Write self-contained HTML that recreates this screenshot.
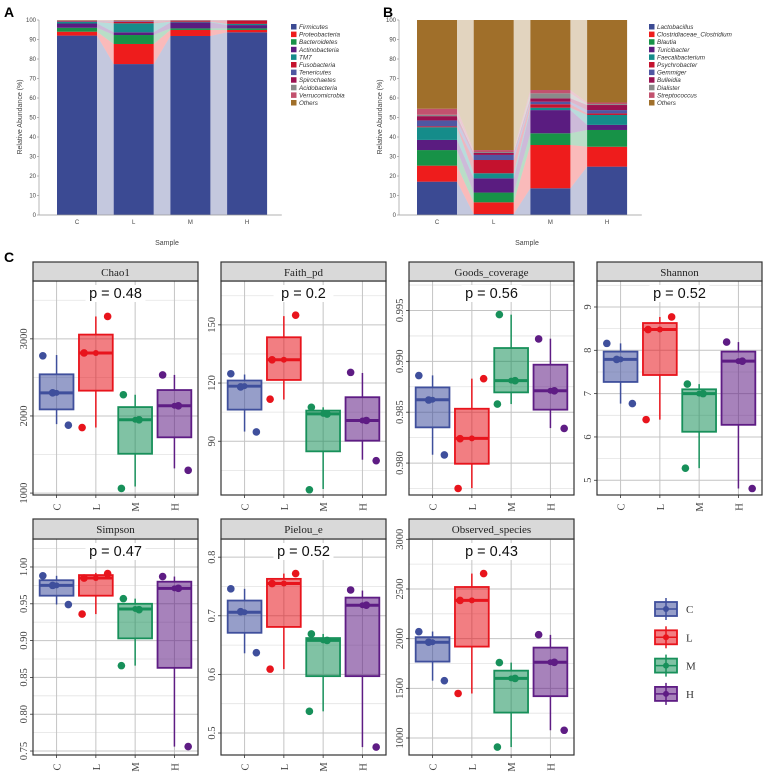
<!DOCTYPE html>
<html><head><meta charset="utf-8"><style>
html,body{margin:0;padding:0;background:#fff;}
svg{display:block;}
</style></head><body>
<svg id="fig" xmlns="http://www.w3.org/2000/svg" width="767" height="773" viewBox="0 0 767 773" font-family="Liberation Sans, sans-serif"></svg>
<script>
// ---------- Panel A data ----------
const phylaNames=["Firmicutes","Proteobacteria","Bacteroidetes","Actinobacteria","TM7","Fusobacteria","Tenericutes","Spirochaetes","Acidobacteria","Verrucomicrobia","Others"];
const phylaColors=["#3b4a93","#ee1c1c","#179247","#5a1c80","#158c8a","#c4122e","#4f57a2","#9b1150","#8a8a8a","#c2516e","#a06f2a"];
const samples=["C","L","M","H"];
const phylaC=[92,2,2,2.2,0.8,0.3,0.2,0.1,0.1,0.1,0.2];
const phylaL=[77.4,10.3,4.6,1.4,4.6,0.8,0.3,0.2,0.1,0.1,0.2];
const phylaM=[91.8,3.1,0.8,3.1,0.3,0.5,0.1,0.1,0.05,0.05,0.1];
const phylaH=[93.7,1.2,0.8,1.7,0.6,1.7,0.1,0.05,0.05,0.05,0.05];
// ---------- Panel B data ----------
const genusNames=["Lactobacillus","Clostridiaceae_Clostridium","Blautia","Turicibacter","Faecalibacterium","Psychrobacter","Gemmiger","Bulleidia","Dialister","Streptococcus","Others"];
const genusColors=["#3b4a93","#ee1c1c","#179247","#5a1c80","#158c8a","#c4122e","#4f57a2","#9b1150","#8a8a8a","#c2516e","#a06f2a"];
const genusC=[17.1,8.2,8,5.2,6.5,0.5,3,2.2,0.7,3.1,45.5];
const genusL=[0.5,6,5,7.3,2.6,6.8,2.6,1,0.5,1,66.7];
const genusM=[13.7,22.2,6,11.9,1.2,1.8,1.3,1.7,2.6,1.7,35.9];
const genusH=[24.8,10.2,8.6,2.6,5.1,0.8,1.7,2.6,0.5,0.8,42.3];
const abundTicks=[0,10,20,30,40,50,60,70,80,90,100];
// ---------- Panel C data: [lo,q1,median,q3,hi] per group C,L,M,H ----------
const groups=["C","L","M","H"];
const groupColors=["#3f4f9c","#e8141c","#17905a","#5e1c84"];
const chao1Box=[[1894,2085,2300,2540,2790],[1850,2328,2817,3055,3290],[1085,1510,1950,2115,2275],[1320,1723,2132,2336,2532]];
const chao1Pts=[[2780,2300,1880],[3290,2817,1850],[2275,1950,1060],[2532,2132,1295]];
const chao1Ticks=[1000,2000,3000];
const faithBox=[[95,106.3,118.4,121.3,124.4],[111.5,121.6,132,143.6,154.5],[65.4,84.8,104.1,105.8,107.5],[80.5,90.3,100.7,112.7,125.2]];
const faithPts=[[124.8,118,94.8],[155,132,111.7],[107.5,104,65],[125.5,100.7,80]];
const faithTicks=[90,120,150];
const goodsBox=[[0.98082,0.98351,0.98623,0.98744,0.98862],[0.97754,0.97993,0.98243,0.98534,0.9883],[0.9858,0.98695,0.9881,0.99131,0.99459],[0.98344,0.98525,0.98711,0.98967,0.99223]];
const goodsPts=[[0.9886,0.9862,0.9808],[0.9883,0.9824,0.9775],[0.9946,0.9881,0.9858],[0.9922,0.9871,0.9834]];
const goodsTicks=[0.980,0.985,0.990,0.995];
const shannonBox=[[6.77,7.27,7.79,7.97,8.16],[6.40,7.43,8.48,8.63,8.77],[5.28,6.12,7.0,7.10,7.22],[4.81,6.28,7.75,7.97,8.19]];
const shannonPts=[[8.16,7.79,6.77],[8.77,8.48,6.40],[7.22,7.0,5.28],[8.19,7.75,4.81]];
const shannonTicks=[5,6,7,8,9];
const simpsonBox=[[0.949,0.961,0.975,0.982,0.988],[0.936,0.961,0.985,0.989,0.992],[0.866,0.903,0.943,0.950,0.957],[0.756,0.863,0.971,0.980,0.987]];
const simpsonPts=[[0.988,0.975,0.949],[0.991,0.985,0.936],[0.957,0.942,0.866],[0.987,0.971,0.756]];
const simpsonTicks=[0.75,0.80,0.85,0.90,0.95,1.00];
const pielouBox=[[0.636,0.671,0.706,0.726,0.746],[0.609,0.681,0.755,0.763,0.772],[0.537,0.597,0.658,0.662,0.669],[0.476,0.597,0.718,0.731,0.743]];
const pielouPts=[[0.746,0.707,0.637],[0.772,0.755,0.609],[0.669,0.658,0.537],[0.744,0.718,0.476]];
const pielouTicks=[0.5,0.6,0.7,0.8];
const obsBox=[[1577,1769,1964,2015,2072],[1448,1920,2385,2520,2655],[909,1256,1600,1678,1759],[1078,1421,1762,1910,2038]];
const obsPts=[[2070,1964,1577],[2655,2385,1448],[1759,1600,909],[2040,1762,1078]];
const obsTicks=[1000,1500,2000,2500,3000];
const pValues=["0.48","0.2","0.56","0.52","0.47","0.52","0.43"];

const NS="http://www.w3.org/2000/svg";
const svg=document.getElementById("fig");
function el(tag,attrs,parent){const e=document.createElementNS(NS,tag);for(const k in attrs)e.setAttribute(k,attrs[k]);(parent||svg).appendChild(e);return e;}
function txt(s,attrs,parent){const e=el("text",attrs,parent);e.textContent=s;return e;}

// panel letters
[["A",4,17],["B",383,17],["C",4,262]].forEach(([s,x,y])=>{
  const t=txt(s,{x:x,y:y,"font-size":14,"font-weight":"bold",fill:"#000"});
  
  
});

function stackChart(key,x0,names,colors,data,legendX){
  const g=el("g",{});
  
  
  const yS=v=>215-v*1.95, pitch=56.7, bw=40, axisX=x0-18;
  const bounds=data.map(d=>{let c=0;return d.map(v=>{const b=c;c+=v;return[b,Math.min(c,100)];});});
  // bands
  for(let i=0;i<data.length-1;i++){
    const xr=x0+i*pitch+bw, xl=x0+(i+1)*pitch;
    names.forEach((n,k)=>{
      const a=bounds[i][k],b=bounds[i+1][k];
      const p=el("polygon",{points:`${xr},${yS(a[1])} ${xl},${yS(b[1])} ${xl},${yS(b[0])} ${xr},${yS(a[0])}`,fill:colors[k],"fill-opacity":0.3},g);
      
      
    });
  }
  data.forEach((d,i)=>{
    names.forEach((n,k)=>{
      const [a,b]=bounds[i][k];
      const r=el("rect",{x:x0+i*pitch,y:yS(b),width:bw,height:Math.max(0,yS(a)-yS(b)),fill:colors[k]},g);
      
      
    });
    const t=txt(samples[i],{x:x0+i*pitch+bw/2,y:224,"font-size":6,"text-anchor":"middle",fill:"#444"},g);
    
    
  });
  el("line",{x1:axisX,y1:20,x2:axisX,y2:215,stroke:"#999","stroke-width":0.7},g);
  el("line",{x1:axisX,y1:215,x2:x0+4*pitch-2,y2:215,stroke:"#999","stroke-width":0.7},g);
  abundTicks.forEach(v=>{
    el("line",{x1:axisX-2,y1:yS(v),x2:axisX,y2:yS(v),stroke:"#999","stroke-width":0.7},g);
    const t=txt(String(v),{x:axisX-3,y:yS(v)+2,"font-size":6,"text-anchor":"end",fill:"#444"},g);
    
    
  });
  const yt=txt("Relative Abundance (%)",{x:0,y:0,"font-size":7,"text-anchor":"middle",fill:"#444",transform:`translate(${axisX-17},117) rotate(-90)`},g);
  
  
  const xt=txt("Sample",{x:x0+110,y:245,"font-size":7,"text-anchor":"middle",fill:"#444"},g);
  
  
  names.forEach((n,k)=>{
    const y=27+k*7.6;
    el("rect",{x:legendX,y:y-3,width:5.5,height:5.5,fill:colors[k]},g);
    const t=txt(n,{x:legendX+8,y:y+2,"font-size":6.3,"font-style":"italic",fill:"#333"},g);
    
    
  });
}
stackChart("a",57,phylaNames,phylaColors,[phylaC,phylaL,phylaM,phylaH],291);
stackChart("b",417,genusNames,genusColors,[genusC,genusL,genusM,genusH],649);

// ---------- box plots ----------
const panels=[
 {name:"Chao1",box:chao1Box,pts:chao1Pts,ticks:chao1Ticks,dom:[975,3750],x:33,row:0,fmt:v=>String(v)},
 {name:"Faith_pd",box:faithBox,pts:faithPts,ticks:faithTicks,dom:[62.3,172.6],x:221,row:0,fmt:v=>String(v)},
 {name:"Goods_coverage",box:goodsBox,pts:goodsPts,ticks:goodsTicks,dom:[0.97686,0.9979],x:409,row:0,fmt:v=>v.toFixed(3)},
 {name:"Shannon",box:shannonBox,pts:shannonPts,ticks:shannonTicks,dom:[4.66,9.6],x:597,row:0,fmt:v=>String(v)},
 {name:"Simpson",box:simpsonBox,pts:simpsonPts,ticks:simpsonTicks,dom:[0.7446,1.038],x:33,row:1,fmt:v=>v.toFixed(2)},
 {name:"Pielou_e",box:pielouBox,pts:pielouPts,ticks:pielouTicks,dom:[0.4625,0.831],x:221,row:1,fmt:v=>v.toFixed(1)},
 {name:"Observed_species",box:obsBox,pts:obsPts,ticks:obsTicks,dom:[829,3003],x:409,row:1,fmt:v=>String(v)}
];
const rows=[{strip:262,top:281,bot:495},{strip:519,top:539,bot:755}];
const PW=165;
const jit=[[-0.35,-0.1,0.3],[0.3,-0.3,-0.35],[-0.3,0.1,-0.35],[-0.3,0.1,0.35]];
panels.forEach((P,pi)=>{
  const R=rows[P.row];
  const g=el("g",{});
  
  
  const yS=v=>R.bot-(v-P.dom[0])/(P.dom[1]-P.dom[0])*(R.bot-R.top);
  const xS=j=>P.x+(0.6+j)*PW/4.2;
  const unit=PW/4.2;
  el("rect",{x:P.x,y:R.top,width:PW,height:R.bot-R.top,fill:"#fff"},g);
  // minor grid
  for(let i=0;i<P.ticks.length+1;i++){
    const step=P.ticks[1]-P.ticks[0];
    const v=P.ticks[0]+(i-0.5)*step;
    if(v>P.dom[0]&&v<P.dom[1]) el("line",{x1:P.x,x2:P.x+PW,y1:yS(v),y2:yS(v),stroke:"#e3e3e3","stroke-width":0.8},g);
  }
  P.ticks.forEach(v=>{
    const y=yS(v);
    if(y>=R.top-1&&y<=R.bot+1) el("line",{x1:P.x,x2:P.x+PW,y1:y,y2:y,stroke:"#c4c4c4","stroke-width":1},g);
    el("line",{x1:P.x-3,x2:P.x,y1:y,y2:y,stroke:"#333","stroke-width":0.8},g);
    const t=txt(P.fmt(v),{x:0,y:0,"font-size":10.5,"font-family":"Liberation Serif, serif","text-anchor":"middle",fill:"#444",transform:`translate(${P.x-6},${y}) rotate(-90)`},g);
    
    
  });
  groups.forEach((gn,j)=>{
    el("line",{x1:xS(j),x2:xS(j),y1:R.top,y2:R.bot,stroke:"#c4c4c4","stroke-width":1},g);
    el("line",{x1:xS(j),x2:xS(j),y1:R.bot,y2:R.bot+3,stroke:"#333","stroke-width":0.8},g);
    const t=txt(gn,{x:0,y:0,"font-size":10.5,"font-family":"Liberation Serif, serif","text-anchor":"middle",fill:"#444",transform:`translate(${xS(j)+4},${R.bot+12}) rotate(-90)`},g);
    
    
  });
  // p value
  const cx=P.x+PW/2, py=R.top+17;
  el("rect",{x:cx-30,y:py-13,width:60,height:17,fill:"#fff"},g);
  const pt=txt("p = "+pValues[pi],{x:cx,y:py,"font-size":14.5,"text-anchor":"middle",fill:"#111"},g);
  
  
  // boxes
  P.box.forEach((b,j)=>{
    const c=groupColors[j], x=xS(j), w=unit*0.86;
    const bg=el("g",{},g);
    
    
    el("line",{x1:x,x2:x,y1:yS(b[0]),y2:yS(b[1]),stroke:c,"stroke-width":1.5},bg);
    el("line",{x1:x,x2:x,y1:yS(b[3]),y2:yS(b[4]),stroke:c,"stroke-width":1.5},bg);
    el("rect",{x:x-w/2,y:yS(b[3]),width:w,height:yS(b[1])-yS(b[3]),fill:c,"fill-opacity":0.55,stroke:c,"stroke-width":1.8},bg);
    el("line",{x1:x-w/2,x2:x+w/2,y1:yS(b[2]),y2:yS(b[2]),stroke:c,"stroke-width":3},bg);
    el("circle",{cx:x,cy:yS(b[2]),r:3,fill:c},bg);
    P.pts[j].forEach((v,k)=>{
      const d=el("circle",{cx:x+jit[j][k]*unit,cy:yS(v),r:3.8,fill:c},bg);
      
      
    });
  });
  el("rect",{x:P.x,y:R.top,width:PW,height:R.bot-R.top,fill:"none",stroke:"#333","stroke-width":1.2},g);
  const st=el("rect",{x:P.x,y:R.strip,width:PW,height:R.top-R.strip,fill:"#d9d9d9",stroke:"#333","stroke-width":1.2},g);
  
  
  const sl=txt(P.name,{x:cx,y:R.strip+14,"font-size":11,"font-family":"Liberation Serif, serif","text-anchor":"middle",fill:"#222"},g);
  
  
});
// legend C
const lg=el("g",{});


groups.forEach((gn,j)=>{
  const c=groupColors[j], y=609+j*28.3, x=666;
  const e=el("g",{},lg);
  
  
  el("line",{x1:x,x2:x,y1:y-11,y2:y+11,stroke:c,"stroke-width":1.5},e);
  el("rect",{x:x-11,y:y-7,width:22,height:14,fill:c,"fill-opacity":0.55,stroke:c,"stroke-width":1.8},e);
  el("line",{x1:x-11,x2:x+11,y1:y,y2:y,stroke:c,"stroke-width":1.5},e);
  el("circle",{cx:x,cy:y,r:3,fill:c},e);
  txt(gn,{x:686,y:y+4,"font-size":11,"font-family":"Liberation Serif, serif",fill:"#333"},e);
});
</script>
</body></html>
